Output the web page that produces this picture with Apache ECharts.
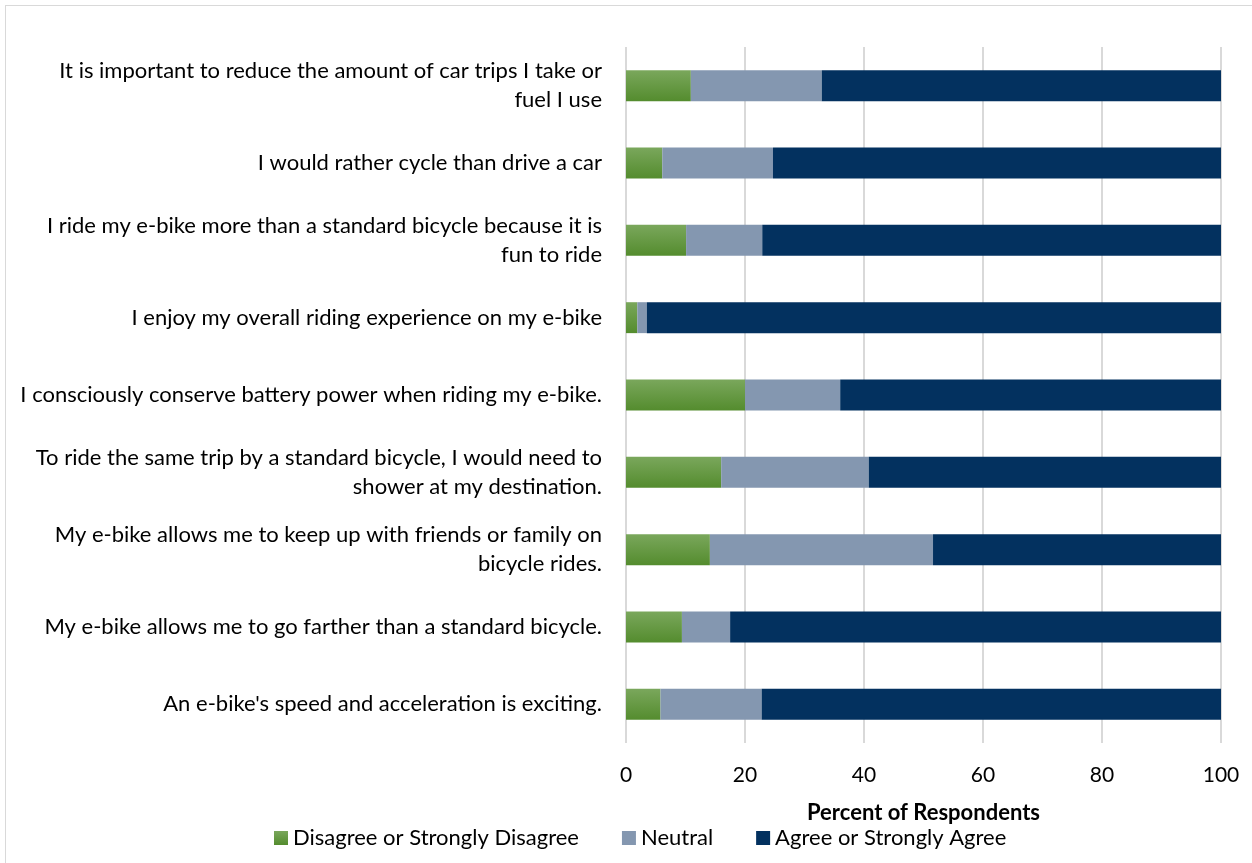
<!DOCTYPE html>
<html>
<head>
<meta charset="utf-8">
<script src="https://cdn.jsdelivr.net/npm/echarts@6/dist/echarts.min.js"></script>
<style>
  html, body { margin: 0; padding: 0; background: #fff; }
  #frame { position: absolute; left: 5px; top: 5px; width: 1250px; height: 870px; border: 1px solid #d9d9d9; box-sizing: border-box; }
  #chart { position: absolute; left: 0; top: 0; width: 1252px; height: 863px; }
</style>
</head>
<body>
<div id="frame"></div>
<div id="chart"></div>
<script>
// 题目（从上到下）
const statements = [
  'It is important to reduce the amount of car trips I take or\nfuel I use',
  'I would rather cycle than drive a car',
  'I ride my e-bike more than a standard bicycle because it is\nfun to ride',
  'I enjoy my overall riding experience on my e-bike',
  'I consciously conserve battery power when riding my e-bike.',
  'To ride the same trip by a standard bicycle, I would need to\nshower at my destination.',
  'My e-bike allows me to keep up with friends or family on\nbicycle rides.',
  'My e-bike allows me to go farther than a standard bicycle.',
  "An e-bike's speed and acceleration is exciting.",
]

// 各选项百分比
const disagree = [10.9, 6.1, 10.1, 1.9, 20.0, 16.0, 14.1, 9.4, 5.8]
const neutral  = [22.0, 18.6, 12.8, 1.6, 16.0, 24.8, 37.5, 8.1, 17.0]
const agree    = [67.1, 75.3, 77.1, 96.5, 64.0, 59.2, 48.4, 82.5, 77.2]

const xTicks = [0, 20, 40, 60, 80, 100]
const FONT = 'Lato'

const chart = echarts.init(document.getElementById('chart'))

const greenFill = new echarts.graphic.LinearGradient(0, 0, 0, 1, [
  { offset: 0, color: '#7aa75c' },
  { offset: 1, color: '#548c2e' },
])

chart.setOption({
  animation: false,
  textStyle: { fontFamily: FONT },
  grid: { left: 626, right: 31, top: 47, bottom: 120, containLabel: false },
  legend: {
    bottom: 9,
    left: 269,
    itemWidth: 14,
    itemHeight: 14,
    itemGap: 43,
    icon: 'rect',
    textStyle: { fontSize: 22, color: '#000', fontFamily: FONT },
    data: ['Disagree or Strongly Disagree', 'Neutral', 'Agree or Strongly Agree'],
  },
  xAxis: {
    type: 'value',
    min: 0, max: 100, interval: 20,
    name: 'Percent of Respondents',
    nameLocation: 'middle',
    nameGap: 59,
    nameTextStyle: { fontSize: 22, fontWeight: 'bold', color: '#000', fontFamily: FONT },
    axisLine: { show: false },
    axisTick: { show: false },
    axisLabel: { fontSize: 21, color: '#000', margin: 22,
      formatter: v => xTicks.includes(v) ? String(v) : '' },
    splitLine: { lineStyle: { color: '#d9d9d9', width: 2 } },
  },
  yAxis: {
    type: 'category',
    inverse: true,
    data: statements,
    axisLine: { show: false },
    axisTick: { show: false },
    axisLabel: { fontSize: 22, color: '#000', margin: 24, align: 'right', lineHeight: 29 },
  },
  series: [
    { name: 'Disagree or Strongly Disagree', type: 'bar', stack: 'total', barWidth: '40%',
      itemStyle: { color: greenFill }, data: disagree },
    { name: 'Neutral', type: 'bar', stack: 'total',
      itemStyle: { color: '#8497b0' }, data: neutral },
    { name: 'Agree or Strongly Agree', type: 'bar', stack: 'total',
      itemStyle: { color: '#03315f' }, data: agree },
  ],
})
</script>
</body>
</html>
